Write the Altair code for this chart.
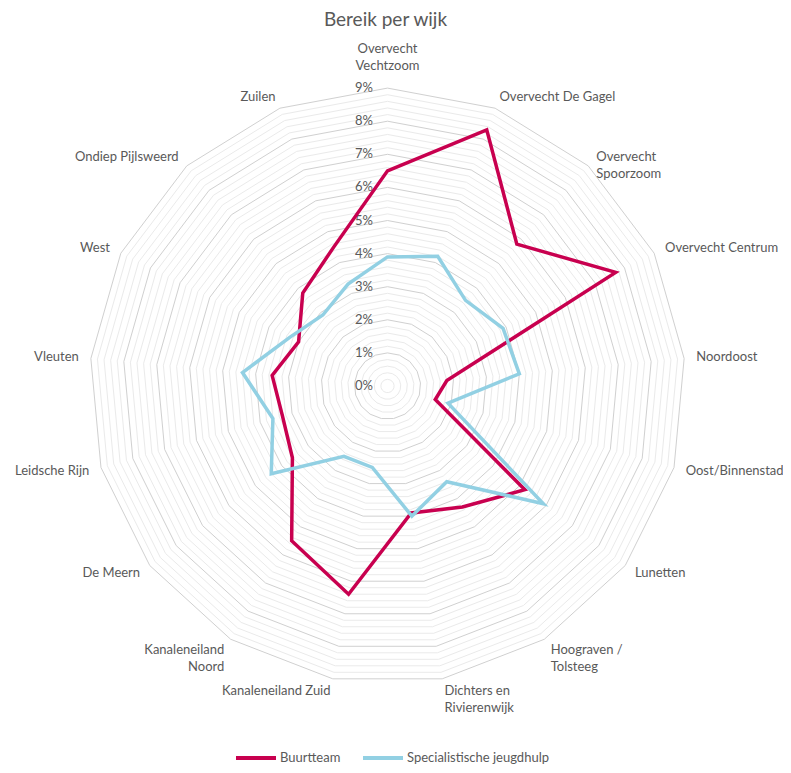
import altair as alt
import pandas as pd

# ---- data -------------------------------------------------------------
categories = [
    "Overvecht\nVechtzoom", "Overvecht De Gagel", "Overvecht\nSpoorzoom",
    "Overvecht Centrum", "Noordoost", "Oost/Binnenstad", "Lunetten",
    "Hoograven /\nTolsteeg", "Dichters en\nRivierenwijk", "Kanaleneiland Zuid",
    "Kanaleneiland\nNoord", "De Meern", "Leidsche Rijn", "Vleuten", "West",
    "Ondiep Pijlsweerd", "Zuilen",
]
buurtteam = [6.5, 8.3, 5.8, 7.7, 1.8, 1.5, 5.2, 4.3, 3.9, 6.4, 5.5, 3.6, 3.3, 3.5, 3.0, 3.8, 4.5]
jeugdhulp = [3.9, 4.2, 3.5, 3.9, 4.0, 1.9, 5.9, 3.4, 4.0, 2.5, 2.5, 4.4, 3.6, 4.4, 3.3, 2.9, 3.3]
series_names = ["Buurtteam", "Specialistische jeugdhulp"]
series_colors = ["#C8004F", "#92D0E3"]
tick_values = [0, 1, 2, 3, 4, 5, 6, 7, 8, 9]
tick_labels = ["0%", "1%", "2%", "3%", "4%", "5%", "6%", "7%", "8%", "9%"]
ring_levels = [round(0.2 * i, 1) for i in range(1, 46)]

# ---- layout constants -------------------------------------------------
N = len(categories)
PX = 33.1            # pixels per percent
W, H = 775, 727      # plot area
CX, CY = 379.5, 348  # centre inside plot area
LABEL_R = 310 / PX
FONT = "Lato"
GREY = "#595959"

xs = alt.Scale(domain=[-CX / PX, (W - CX) / PX], nice=False, zero=False)
ys = alt.Scale(domain=[-(H - CY) / PX, CY / PX], nice=False, zero=False)

ang = f"(datum.idx * 2 * PI / {N})"

# ---- tables ------------------------------------------------------------
series_df = pd.DataFrame({
    "idx": list(range(N)) * 2,
    "series": [series_names[0]] * N + [series_names[1]] * N,
    "value": buurtteam + jeugdhulp,
})
grid_df = pd.DataFrame(
    [(lv, i) for lv in ring_levels for i in range(N)], columns=["level", "idx"]
)
tick_df = pd.DataFrame({"v": tick_values, "label": tick_labels})
cat_df = pd.DataFrame({"idx": list(range(N)), "label": categories})

X = lambda f: alt.X(f, scale=xs, axis=None)
Y = lambda f: alt.Y(f, scale=ys, axis=None)

grid_base = alt.Chart(grid_df).transform_calculate(
    x=f"datum.level * sin({ang})",
    y=f"datum.level * cos({ang})",
    major=f"abs(datum.level - round(datum.level)) < 0.01",
)
minor = grid_base.transform_filter("!datum.major").mark_line(
    interpolate="linear-closed", color="#EAEAEA", strokeWidth=1
).encode(x=X("x:Q"), y=Y("y:Q"), detail="level:Q", order="idx:Q")
major = grid_base.transform_filter("datum.major").mark_line(
    interpolate="linear-closed", color="#D0D0D0", strokeWidth=1
).encode(x=X("x:Q"), y=Y("y:Q"), detail="level:Q", order="idx:Q")

ticks = alt.Chart(tick_df).transform_calculate(zero="0").mark_text(
    align="right", baseline="middle", dx=-14.5, fontSize=13, font=FONT, color=GREY
).encode(x=X("zero:Q"), y=Y("v:Q"), text="label:N")

series = alt.Chart(series_df).transform_calculate(
    x=f"datum.value * sin({ang})",
    y=f"datum.value * cos({ang})",
).mark_line(interpolate="linear-closed", strokeWidth=3.5).encode(
    x=X("x:Q"),
    y=Y("y:Q"),
    order="idx:Q",
    color=alt.Color(
        "series:N",
        scale=alt.Scale(domain=series_names, range=series_colors),
        legend=alt.Legend(
            title=None, orient="none", direction="horizontal",
            legendX=226, legendY=698,
            symbolType="stroke", symbolStrokeWidth=4, symbolSize=1600,
            labelFontSize=13, labelFont=FONT, labelColor=GREY,
            labelOffset=2, columnPadding=14,
        ),
    ),
)

cat_base = alt.Chart(cat_df).transform_calculate(
    lx=f"{LABEL_R} * sin({ang})",
    ly=f"{LABEL_R} * cos({ang})",
    s=f"sin({ang})",
)
cat_left = cat_base.transform_filter("datum.s > 0.01").mark_text(
    align="left", baseline="middle", fontSize=13, font=FONT, color=GREY, lineBreak="\n", lineHeight=17
).encode(x=X("lx:Q"), y=Y("ly:Q"), text="label:N")
cat_right = cat_base.transform_filter("datum.s < -0.01").mark_text(
    align="right", baseline="middle", fontSize=13, font=FONT, color=GREY, lineBreak="\n", lineHeight=17
).encode(x=X("lx:Q"), y=Y("ly:Q"), text="label:N")
cat_center = cat_base.transform_filter("abs(datum.s) <= 0.01").mark_text(
    align="center", baseline="bottom", dy=-20, fontSize=13, font=FONT, color=GREY, lineBreak="\n", lineHeight=17
).encode(x=X("lx:Q"), y=Y("ly:Q"), text="label:N")

chart = alt.layer(minor, major, ticks, series, cat_left, cat_right, cat_center).properties(
    width=W, height=H,
    autosize="none",
    padding={"left": 0, "top": 30, "right": 0, "bottom": 0},
    title=alt.TitleParams("Bereik per wijk", fontSize=19, font=FONT, fontWeight="normal",
                          color=GREY, anchor="middle", dx=-10, offset=8),
).configure_view(stroke=None)

chart.save("out.html", embed_options={"renderer": "svg", "actions": False})
